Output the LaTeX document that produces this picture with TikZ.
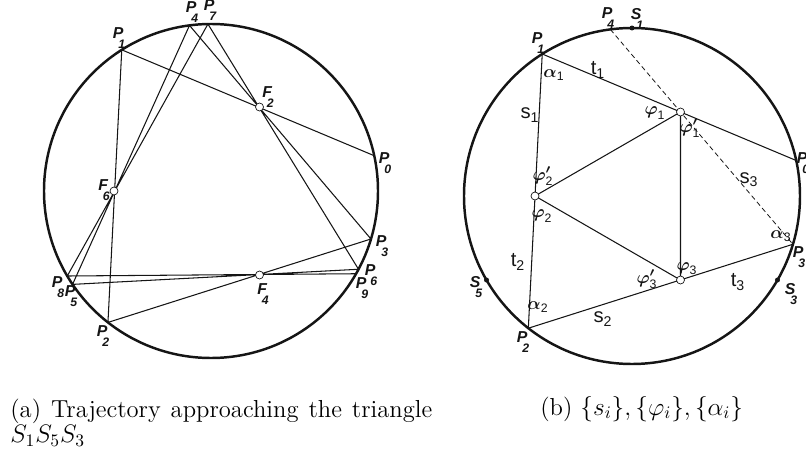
\documentclass[tikz,border=0pt]{standalone}
\usepackage{amsmath,amssymb}
\usepackage{fontspec}
\setsansfont{Liberation Sans}
\usepackage{xcolor}
\usepackage{tikz}
\usetikzlibrary{positioning}
\definecolor{figink}{HTML}{151515}
\newcommand{\ptlab}[2]{#1\kern-0.32em\raisebox{-1.2ex}{\scriptsize #2}}
\newcommand{\anglab}[2]{$\boldsymbol{#1}_{\mathsf{#2}}$}
\newcommand{\anglabp}[2]{$\boldsymbol{#1}^{\boldsymbol{\prime}}_{\mathsf{#2}}$}

\begin{document}
\begin{tikzpicture}[
  x=0.02cm,
  y=0.02cm,
  rim/.style={draw=figink, line width=1.4pt},
  chord/.style={draw=figink, line width=0.6pt},
  sideline/.style={draw=figink, line width=0.45pt, dash pattern=on 2.8pt off 1.8pt},
  focus/.style={circle, draw=figink, fill=white, line width=0.4pt, inner sep=0pt, minimum size=0.16cm},
  sdot/.style={circle, fill=figink, inner sep=0pt, minimum size=0.1cm},
  ptlabel/.style={font=\small\sffamily\bfseries\itshape, text=figink, inner sep=0pt},
  seglabel/.style={font=\fontsize{11.5}{13}\sffamily, text=figink, inner sep=0pt},
  anglabel/.style={font=\normalsize, text=figink, inner sep=0pt},
  caption/.style={font=\fontsize{14}{14}\selectfont, inner sep=0pt}
]
\useasboundingbox (0,0) rectangle (806,454);

\coordinate (LO) at (211,263);
\coordinate (RO) at (632,258);

\draw[rim] (LO) circle[radius=167];
\foreach \n/\a in {0/12.2,1/122.3,2/231.9,3/-16.7,4/97.4,5/214.0,6/-27.95,7/91.05,8/210.6,9/-29.7}
  \coordinate (LP\n) at ([shift={(\a:167)}]LO);
\coordinate (LF2) at ([shift={(60:97)}]LO);
\coordinate (LF6) at ([shift={(180:97)}]LO);
\coordinate (LF4) at ([shift={(300:97)}]LO);

\draw[chord] (LP0) \foreach \n in {1,...,9} {-- (LP\n)};
\foreach \f in {LF2,LF4,LF6}
  \node[focus] (\f m) at (\f) {};

\node[ptlabel] (lP0) at (385,291) {\ptlab{P}{0}};
\node[ptlabel] (lP1) at (119,416) {\ptlab{P}{1}};
\node[ptlabel] (lP2) at (103,118) {\ptlab{P}{2}};
\node[ptlabel] (lP3) at (382,208) {\ptlab{P}{3}};
\node[ptlabel] (lP4) at (192,442) {\ptlab{P}{4}};
\node[ptlabel] (lP5) at (71,158) {\ptlab{P}{5}};
\node[ptlabel] (lP6) at (371,179) {\ptlab{P}{6}};
\node[ptlabel] (lP7) at (210,444) {\ptlab{P}{7}};
\node[ptlabel] (lP8) at (58,167) {\ptlab{P}{8}};
\node[ptlabel] (lP9) at (362,166) {\ptlab{P}{9}};
\node[ptlabel] (lF2) at (268,357) {\ptlab{F}{2}};
\node[ptlabel] (lF4) at (263,160) {\ptlab{F}{4}};
\node[ptlabel] (lF6) at (104,264) {\ptlab{F}{6}};

\draw[rim] (RO) circle[radius=168];
\foreach \n/\a in {0/12.2,1/122.3,2/231.9,3/-16.7,4/97.4}
  \coordinate (RP\n) at ([shift={(\a:168)}]RO);
\foreach \n/\a in {1/90,5/210,3/-30}
  \coordinate (RS\n) at ([shift={(\a:168)}]RO);
\coordinate (RF1) at ([shift={(60:97)}]RO);
\coordinate (RF2) at ([shift={(180:97)}]RO);
\coordinate (RF3) at ([shift={(300:97)}]RO);

\draw[sideline] (RP4) -- (RP3);
\draw[chord] (RP0) -- (RP1) -- (RP2) -- (RP3);
\draw[chord] (RF2) -- (RF1) -- (RF3) -- cycle;
\foreach \f in {RF1,RF2,RF3}
  \node[focus] (\f m) at (\f) {};
\foreach \s in {RS1,RS3,RS5}
  \node[sdot] (\s m) at (\s) {};

\node[ptlabel] (rP0) at (803,291) {\ptlab{P}{0}};
\node[ptlabel] (rP1) at (538,411) {\ptlab{P}{1}};
\node[ptlabel] (rP2) at (523,112) {\ptlab{P}{2}};
\node[ptlabel] (rP3) at (799,197) {\ptlab{P}{3}};
\node[ptlabel] (rP4) at (608,436) {\ptlab{P}{4}};
\node[ptlabel] (rS1) at (637,435) {\ptlab{S}{1}};
\node[ptlabel] (rS3) at (791,160) {\ptlab{S}{3}};
\node[ptlabel] (rS5) at (476,167) {\ptlab{S}{5}};

\node[seglabel] (s1) at (530,339) {s\textsubscript{1}};
\node[seglabel] (t1) at (598,384) {t\textsubscript{1}};
\node[seglabel] (s2) at (603,135) {s\textsubscript{2}};
\node[seglabel] (t2) at (518,192) {t\textsubscript{2}};
\node[seglabel] (s3) at (749,274) {s\textsubscript{3}};
\node[seglabel] (t3) at (738,172) {t\textsubscript{3}};

\node[anglabel] (a1) at (554,379) {\anglab{\alpha}{1}};
\node[anglabel] (a2) at (538,147) {\anglab{\alpha}{2}};
\node[anglabel] (a3) at (781,218) {\anglab{\alpha}{3}};
\node[anglabel] (f1) at (655,341) {\anglab{\varphi}{1}};
\node[anglabel] (f2) at (542,238) {\anglab{\varphi}{2}};
\node[anglabel] (f3) at (687,185) {\anglab{\varphi}{3}};
\node[anglabel] (f1p) at (690,326) {\anglabp{\varphi}{1}};
\node[anglabel] (f2p) at (543,278) {\anglabp{\varphi}{2}};
\node[anglabel] (f3p) at (647,175) {\anglabp{\varphi}{3}};

\node[caption, anchor=north west, text width=8.44cm, align=justify] (capa) at (10,55)
  {(a) Trajectory approaching the triangle $S_1S_5S_3$};
\node[caption, anchor=base west] (capb) at (540,39)
  {(b) $\{s_i\},\{\varphi_i\},\{\alpha_i\}$};
\end{tikzpicture}
\end{document}
